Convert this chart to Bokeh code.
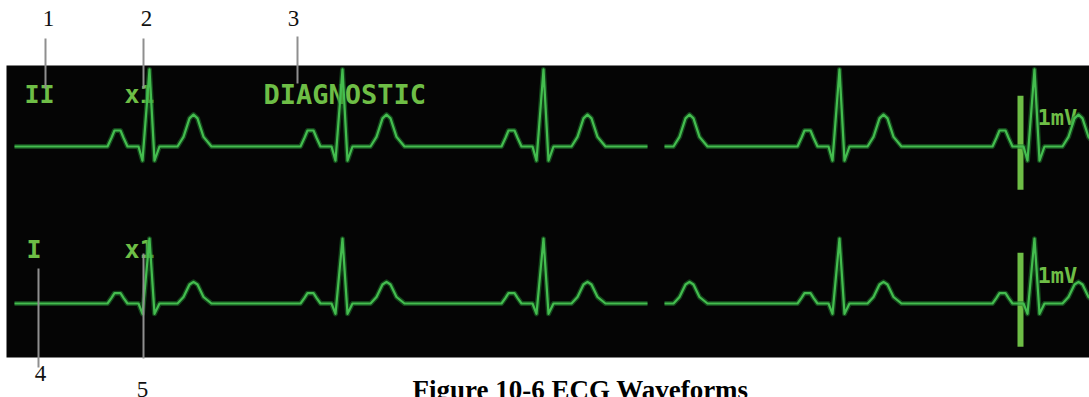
from bokeh.plotting import figure
from bokeh.models import Range1d, ColumnDataSource
from bokeh.core.properties import value
from bokeh.embed import file_html
from bokeh.resources import INLINE

# ---------------- data ----------------
# R-peak positions of the beats (page px, time axis)
r_peaks = [149, 342, 543, 839, 1034]
# a T wave that appears right after the trace gap
lone_t = [690]
# trace segments (start, end) – the sweep has a gap between them
segments = [(14, 647), (664, 1100)]

# beat template (offsets from the R peak, px)
p_dx = [-42, -38, -35, -29, -26, -22]
p_shape = [0, 0.55, 1, 1, 0.55, 0]
qrs_dx = [-11, -7, 0, 5, 10]
t_offset = 45
t_dx = [-17, -11, -5, -1, 3, 9, 17]
t_shape = [0, 0.3, 0.88, 1, 0.88, 0.3, 0]

# amplitudes in mV per lead
lead_II_p = 0.17
lead_II_qrs = [0, -0.15, 0.82, -0.15, 0]
lead_II_t = 0.34
lead_I_p = 0.11
lead_I_qrs = [0, -0.11, 0.69, -0.11, 0]
lead_I_t = 0.23

# calibration pulse (mV)
cal_top = 0.54
cal_bottom = -0.46

# texts
lead_names = ["II", "I"]
gain_labels = ["x1", "x1"]
mode_label = "DIAGNOSTIC"
cal_label = "1mV"
callout_numbers = ["1", "2", "3", "4", "5"]
caption = "Figure 10-6 ECG Waveforms"


def build_trace(p_amp, qrs_amp, t_amp):
    xs_all, ys_all = [], []
    for (s, e) in segments:
        pts = [(s, 0.0), (e, 0.0)]
        for r in r_peaks:
            if s < r < e:
                pts += [(r + dx, p_amp * f) for dx, f in zip(p_dx, p_shape)]
                pts += [(r + dx, a) for dx, a in zip(qrs_dx, qrs_amp)]
                pts += [(r + t_offset + dx, t_amp * f) for dx, f in zip(t_dx, t_shape)]
        for t in lone_t:
            if s < t < e:
                pts += [(t + dx, t_amp * f) for dx, f in zip(t_dx, t_shape)]
        pts.sort(key=lambda q: q[0])
        xs_all.append([q[0] for q in pts])
        ys_all.append([q[1] for q in pts])
    return xs_all, ys_all


W, H = 1089, 397

# ---------------- figure ----------------
p = figure(width=W, height=H, output_backend="svg", toolbar_location=None,
           x_range=Range1d(0, W), y_range=Range1d(H, 0),
           x_axis_location=None, y_axis_location=None, min_border=0)
p.outline_line_color = None
p.grid.visible = False
p.background_fill_color = "white"
p.border_fill_color = "white"

# mV ranges for the two leads (1 mV = 94 px)
p.extra_y_ranges = {
    "lead_II": Range1d(-(H - 146) / 94, 146 / 94),
    "lead_I": Range1d(-(H - 303) / 94, 303 / 94),
}

# monitor screen
p.quad(left=6, right=W, top=65, bottom=357, fill_color="#050505", line_color=None)

label_green = "#6ebe46"
mono = value("DejaVu Sans Mono")

# on-screen labels
p.text(x=[24, 26], y=[94, 249], text=lead_names, text_font=mono, text_font_style="bold",
       text_font_size="25px", text_color=label_green, text_baseline="alphabetic")
p.text(x=[124, 124], y=[94, 249], text=gain_labels, text_font=mono, text_font_style="bold",
       text_font_size="25px", text_color=label_green, text_baseline="alphabetic")
p.text(x=[263], y=[94], text=[mode_label], text_font=mono, text_font_style="bold",
       text_font_size="27px", text_color=label_green, text_baseline="alphabetic")
p.text(x=[1037, 1037], y=[117, 275], text=[cal_label, cal_label], text_font=mono,
       text_font_style="bold", text_font_size="22px", text_color=label_green,
       text_baseline="alphabetic")

# calibration pulses
for rng in ["lead_II", "lead_I"]:
    p.vbar(x=1020, width=6, top=cal_top, bottom=cal_bottom, fill_color=label_green,
           line_color=None, y_range_name=rng)

# ECG traces
for rng, (pa, qa, ta) in zip(["lead_II", "lead_I"],
                             [(lead_II_p, lead_II_qrs, lead_II_t),
                              (lead_I_p, lead_I_qrs, lead_I_t)]):
    xs, ys = build_trace(pa, qa, ta)
    src = ColumnDataSource(dict(xs=xs, ys=ys))
    p.multi_line("xs", "ys", source=src, line_color="#1f7a2c", line_width=5,
                 line_alpha=0.55, y_range_name=rng, line_join="round")
    p.multi_line("xs", "ys", source=src, line_color="#44bd4f", line_width=2.2,
                 y_range_name=rng, line_join="round")

# callout lines
p.segment(x0=[45, 143, 297, 38, 143], y0=[38, 38, 36, 268, 253],
          x1=[45, 143, 297, 38, 143], y1=[88, 88, 83, 367, 358],
          line_color="#8f8f8f", line_width=2)

# callout numbers
p.text(x=[48, 146, 293, 40, 142], y=[18, 18, 18, 373, 389], text=callout_numbers,
       text_font=value("Liberation Serif"), text_font_size="23px", text_color="#111111",
       text_align="center", text_baseline="alphabetic")

# caption
p.text(x=[580], y=[389], text=[caption], text_font=value("Liberation Serif"),
       text_font_style="bold", text_font_size="27px", text_color="#000000",
       text_align="center", text_baseline="alphabetic")

open("out.html", "w").write(file_html(p, INLINE))
